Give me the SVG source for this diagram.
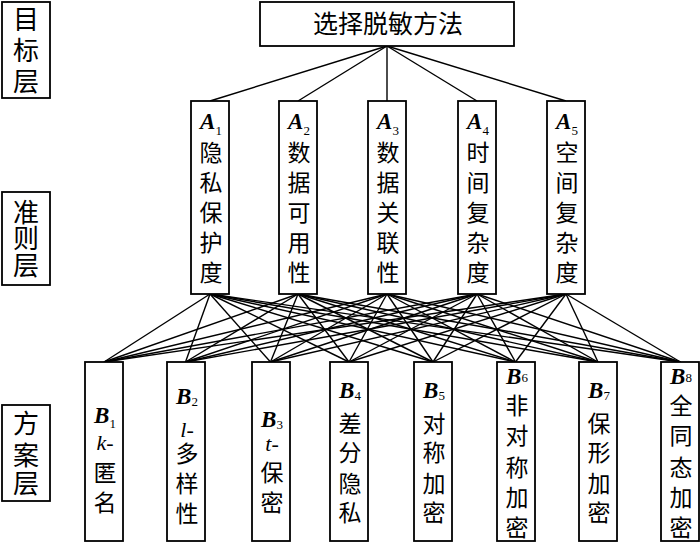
<svg xmlns="http://www.w3.org/2000/svg" width="700" height="543" viewBox="0 0 700 543">
<style>
.box{fill:#fff;stroke:#000;stroke-width:1.8}
.ln{stroke:#000;stroke-width:1.4;fill:none}
.cj{font-family:"Noto Sans CJK SC","Noto Sans CJK JP",sans-serif;fill:#000;text-anchor:middle}
.c24{font-size:23px}
.c25{font-size:25px}
.c27{font-size:26px}
.lat{font-family:"Liberation Serif","Times New Roman",serif;fill:#000;text-anchor:middle}
.bi{font-weight:bold;font-style:italic;font-size:23px}
.sub{font-size:13px;font-style:normal;font-weight:normal}
.it{font-style:italic;font-size:22px}
</style>
<rect width="700" height="543" fill="#fff"/>
<g id="connectors">
<line class="ln" x1="387" y1="46" x2="210" y2="101"/>
<line class="ln" x1="387" y1="46" x2="298" y2="101"/>
<line class="ln" x1="387" y1="46" x2="387" y2="101"/>
<line class="ln" x1="387" y1="46" x2="477" y2="101"/>
<line class="ln" x1="387" y1="46" x2="566" y2="101"/>
<g id="ab">
<line class="ln" x1="210" y1="294" x2="104" y2="362"/><line class="ln" x1="210" y1="294" x2="185.5" y2="362"/><line class="ln" x1="210" y1="294" x2="270.5" y2="362"/><line class="ln" x1="210" y1="294" x2="349" y2="362"/><line class="ln" x1="210" y1="294" x2="433" y2="362"/><line class="ln" x1="210" y1="294" x2="515.5" y2="362"/><line class="ln" x1="210" y1="294" x2="598" y2="362"/><line class="ln" x1="210" y1="294" x2="680.5" y2="362"/>
<line class="ln" x1="298" y1="294" x2="104" y2="362"/><line class="ln" x1="298" y1="294" x2="185.5" y2="362"/><line class="ln" x1="298" y1="294" x2="270.5" y2="362"/><line class="ln" x1="298" y1="294" x2="349" y2="362"/><line class="ln" x1="298" y1="294" x2="433" y2="362"/><line class="ln" x1="298" y1="294" x2="515.5" y2="362"/><line class="ln" x1="298" y1="294" x2="598" y2="362"/><line class="ln" x1="298" y1="294" x2="680.5" y2="362"/>
<line class="ln" x1="387" y1="294" x2="104" y2="362"/><line class="ln" x1="387" y1="294" x2="185.5" y2="362"/><line class="ln" x1="387" y1="294" x2="270.5" y2="362"/><line class="ln" x1="387" y1="294" x2="349" y2="362"/><line class="ln" x1="387" y1="294" x2="433" y2="362"/><line class="ln" x1="387" y1="294" x2="515.5" y2="362"/><line class="ln" x1="387" y1="294" x2="598" y2="362"/><line class="ln" x1="387" y1="294" x2="680.5" y2="362"/>
<line class="ln" x1="477" y1="294" x2="104" y2="362"/><line class="ln" x1="477" y1="294" x2="185.5" y2="362"/><line class="ln" x1="477" y1="294" x2="270.5" y2="362"/><line class="ln" x1="477" y1="294" x2="349" y2="362"/><line class="ln" x1="477" y1="294" x2="433" y2="362"/><line class="ln" x1="477" y1="294" x2="515.5" y2="362"/><line class="ln" x1="477" y1="294" x2="598" y2="362"/><line class="ln" x1="477" y1="294" x2="680.5" y2="362"/>
<line class="ln" x1="566" y1="294" x2="104" y2="362"/><line class="ln" x1="566" y1="294" x2="185.5" y2="362"/><line class="ln" x1="566" y1="294" x2="270.5" y2="362"/><line class="ln" x1="566" y1="294" x2="349" y2="362"/><line class="ln" x1="566" y1="294" x2="433" y2="362"/><line class="ln" x1="566" y1="294" x2="515.5" y2="362"/><line class="ln" x1="566" y1="294" x2="598" y2="362"/><line class="ln" x1="566" y1="294" x2="680.5" y2="362"/>
</g>
</g>
<g id="label-goal"><rect class="box" x="2" y="2" width="48" height="96"/>
<text class="cj c27" x="26" y="29">目</text><text class="cj c27" x="26" y="60">标</text><text class="cj c27" x="26" y="91">层</text></g>
<g id="label-criteria"><rect class="box" x="2" y="192" width="48" height="93"/>
<text class="cj c27" x="26" y="222">准</text><text class="cj c27" x="26" y="248">则</text><text class="cj c27" x="26" y="275">层</text></g>
<g id="label-scheme"><rect class="box" x="2" y="405" width="48" height="96"/>
<text class="cj c27" x="26" y="433">方</text><text class="cj c27" x="26" y="465">案</text><text class="cj c27" x="26" y="493">层</text></g>
<g id="goal"><rect class="box" x="260" y="2" width="254" height="44"/>
<text class="cj c25" x="388" y="33">选择脱敏方法</text></g>
<g id="A1"><rect class="box" x="191" y="101" width="38" height="193"/>
<text class="lat" x="211" y="129"><tspan class="bi">A</tspan><tspan class="sub" dy="6">1</tspan></text>
<text class="cj c24" x="211" y="161">隐</text><text class="cj c24" x="211" y="191">私</text><text class="cj c24" x="211" y="221">保</text><text class="cj c24" x="211" y="251">护</text><text class="cj c24" x="211" y="281">度</text></g>
<g id="A2"><rect class="box" x="279" y="101" width="38" height="193"/>
<text class="lat" x="299" y="129"><tspan class="bi">A</tspan><tspan class="sub" dy="6">2</tspan></text>
<text class="cj c24" x="299" y="161">数</text><text class="cj c24" x="299" y="191">据</text><text class="cj c24" x="299" y="221">可</text><text class="cj c24" x="299" y="251">用</text><text class="cj c24" x="299" y="281">性</text></g>
<g id="A3"><rect class="box" x="368" y="101" width="38" height="193"/>
<text class="lat" x="388" y="129"><tspan class="bi">A</tspan><tspan class="sub" dy="6">3</tspan></text>
<text class="cj c24" x="388" y="161">数</text><text class="cj c24" x="388" y="191">据</text><text class="cj c24" x="388" y="221">关</text><text class="cj c24" x="388" y="251">联</text><text class="cj c24" x="388" y="281">性</text></g>
<g id="A4"><rect class="box" x="458" y="101" width="38" height="193"/>
<text class="lat" x="478" y="129"><tspan class="bi">A</tspan><tspan class="sub" dy="6">4</tspan></text>
<text class="cj c24" x="478" y="161">时</text><text class="cj c24" x="478" y="191">间</text><text class="cj c24" x="478" y="221">复</text><text class="cj c24" x="478" y="251">杂</text><text class="cj c24" x="478" y="281">度</text></g>
<g id="A5"><rect class="box" x="547" y="101" width="38" height="193"/>
<text class="lat" x="567" y="129"><tspan class="bi">A</tspan><tspan class="sub" dy="6">5</tspan></text>
<text class="cj c24" x="567" y="161">空</text><text class="cj c24" x="567" y="191">间</text><text class="cj c24" x="567" y="221">复</text><text class="cj c24" x="567" y="251">杂</text><text class="cj c24" x="567" y="281">度</text></g>
<g id="B1"><rect class="box" x="85" y="362" width="38" height="179"/>
<text class="lat" x="105" y="423"><tspan class="bi">B</tspan><tspan class="sub" dy="5">1</tspan></text>
<text class="lat it" x="105" y="450">k-</text>
<text class="cj c24" x="105" y="481">匿</text><text class="cj c24" x="105" y="511">名</text></g>
<g id="B2"><rect class="box" x="167" y="362" width="38" height="179"/>
<text class="lat" x="187" y="404"><tspan class="bi">B</tspan><tspan class="sub" dy="2">2</tspan></text>
<text class="lat it" x="187" y="437">l-</text>
<text class="cj c24" x="187" y="462">多</text><text class="cj c24" x="187" y="492">样</text><text class="cj c24" x="187" y="522">性</text></g>
<g id="B3"><rect class="box" x="252" y="362" width="38" height="179"/>
<text class="lat" x="272" y="427"><tspan class="bi">B</tspan><tspan class="sub" dy="2">3</tspan></text>
<text class="lat it" x="272" y="451">t-</text>
<text class="cj c24" x="272" y="481">保</text><text class="cj c24" x="272" y="511">密</text></g>
<g id="B4"><rect class="box" x="330" y="362" width="38" height="179"/>
<text class="lat" x="350" y="398"><tspan class="bi">B</tspan><tspan class="sub" dy="2">4</tspan></text>
<text class="cj c24" x="350" y="432">差</text><text class="cj c24" x="350" y="461">分</text><text class="cj c24" x="350" y="492">隐</text><text class="cj c24" x="350" y="521">私</text></g>
<g id="B5"><rect class="box" x="414" y="362" width="38" height="179"/>
<text class="lat" x="434" y="398"><tspan class="bi">B</tspan><tspan class="sub" dy="2">5</tspan></text>
<text class="cj c24" x="434" y="432">对</text><text class="cj c24" x="434" y="461">称</text><text class="cj c24" x="434" y="492">加</text><text class="cj c24" x="434" y="521">密</text></g>
<g id="B6"><rect class="box" x="497" y="362" width="38" height="179"/>
<text class="lat" x="517" y="384"><tspan class="bi">B</tspan><tspan class="sub" dy="-2">6</tspan></text>
<text class="cj c24" x="517" y="414">非</text><text class="cj c24" x="517" y="444">对</text><text class="cj c24" x="517" y="476">称</text><text class="cj c24" x="517" y="506">加</text><text class="cj c24" x="517" y="536">密</text></g>
<g id="B7"><rect class="box" x="579" y="362" width="38" height="179"/>
<text class="lat" x="599" y="398"><tspan class="bi">B</tspan><tspan class="sub" dy="2">7</tspan></text>
<text class="cj c24" x="599" y="432">保</text><text class="cj c24" x="599" y="461">形</text><text class="cj c24" x="599" y="492">加</text><text class="cj c24" x="599" y="521">密</text></g>
<g id="B8"><rect class="box" x="661" y="362" width="38" height="179"/>
<text class="lat" x="681" y="384"><tspan class="bi">B</tspan><tspan class="sub" dy="-2">8</tspan></text>
<text class="cj c24" x="681" y="414">全</text><text class="cj c24" x="681" y="444">同</text><text class="cj c24" x="681" y="476">态</text><text class="cj c24" x="681" y="506">加</text><text class="cj c24" x="681" y="536">密</text></g>
</svg>
